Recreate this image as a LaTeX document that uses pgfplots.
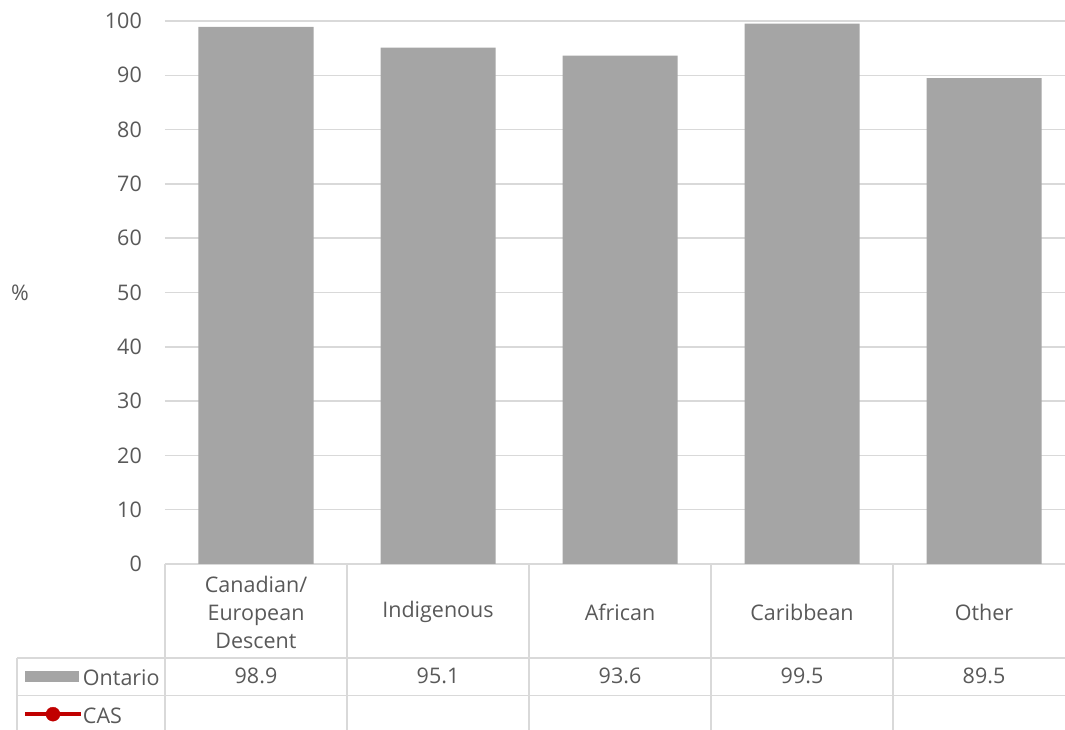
\documentclass[border=0pt]{standalone}
\usepackage{fontspec}
\setmainfont{Open Sans}
\usepackage{pgfplots}
\pgfplotsset{compat=1.18}
\definecolor{barc}{HTML}{A5A5A5}
\definecolor{gridc}{HTML}{D9D9D9}
\definecolor{txtc}{HTML}{595959}
\definecolor{casred}{HTML}{C00000}
\newcommand{\tf}{\fontsize{21.5}{28}\selectfont}
\begin{document}
\begin{tikzpicture}
\path[use as bounding box] (-165pt,-166pt) rectangle (900pt,564pt);
\begin{axis}[
  at={(0pt,0pt)}, anchor=south west,
  scale only axis, width=900pt, height=543pt,
  xmin=-0.5, xmax=4.445, ymin=0, ymax=100,
  ytick={0,10,...,100},
  xtick={0,1,2,3,4},
  xticklabels={{Canadian/\\European\\Descent},Indigenous,African,Caribbean,Other},
  axis line style={draw=none},
  major tick length=0pt,
  ymajorgrids, major grid style={gridc, line width=1.5pt},
  /pgf/number format/assume math mode=true,
  tick label style={font=\tf, text=txtc},
  yticklabel style={anchor=east, inner sep=0pt, xshift=-23pt},
  xticklabel style={anchor=center, align=center, inner sep=0pt, yshift=-48pt},
  ylabel={\%}, ylabel style={rotate=-90, font=\tf, text=txtc, at={(-145pt,271pt)}, anchor=center},
  ybar, bar width=115pt,
  clip=false,
  legend style={at={(axis description cs:-0.1578,-0.1970)}, anchor=north west, draw=none, fill=none, inner sep=0pt, outer sep=0pt,
    font=\tf, text=txtc, row sep=16pt,
    nodes={inner sep=0pt, text height=15pt, text depth=5pt}},
  legend cell align=left,
]
\addplot[fill=barc, draw=none,
  legend image code/.code={\fill[barc] (0pt,-1.5pt) rectangle (54pt,9.5pt);}]
  coordinates {(0,98.9) (1,95.1) (2,93.6) (3,99.5) (4,89.5)};
\addlegendentry{Ontario}
\addlegendimage{legend image code/.code={\draw[casred, line width=4pt] (0pt,4pt) -- (56pt,4pt); \fill[casred] (28pt,4pt) circle (7pt);}}
\addlegendentry{CAS}
% data table values
\foreach \x/\v in {0/98.9,1/95.1,2/93.6,3/99.5,4/89.5}{
  \edef\tmp{\noexpand\node[text=txtc, font=\noexpand\tf, anchor=center] at (axis cs:\x,0) [yshift=-112pt] {\v};}
  \tmp
}
\end{axis}
\begin{scope}[gridc, line width=1.5pt]
\draw (-148pt,-94pt) -- (900pt,-94pt);
\draw (-148pt,-131.5pt) -- (900pt,-131.5pt);
\draw (-148pt,-94pt) -- (-148pt,-166pt);
\foreach \xx in {0,182,364,546,728}{\draw (\xx pt,0pt) -- (\xx pt,-166pt);}
\end{scope}
\end{tikzpicture}
\end{document}
